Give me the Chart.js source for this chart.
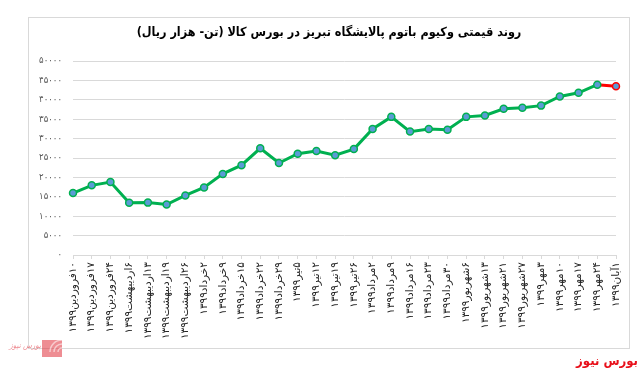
<!DOCTYPE html>
<html lang="fa">
<head>
<meta charset="utf-8">
<title>روند قیمتی وکیوم باتوم</title>
<script src="https://cdn.jsdelivr.net/npm/chart.js@4.4.1/dist/chart.umd.min.js"></script>
<style>
    html, body { margin: 0; padding: 0; background: #fff; }
    #box { position: relative; width: 643px; height: 374px; }
</style>
</head>
<body>
<div id="box"><canvas id="graficoVakium" dir="rtl"></canvas></div>
<script>
// Dados
const titulo = 'روند قیمتی وکیوم باتوم پالایشگاه تبریز در بورس کالا (تن- هزار ریال)';
const ano = '۱۳۹۹';
const dias = [
    '۱۰فروردین', '۱۷فروردین', '۲۴فروردین', '۶اردیبهشت', '۱۳اردیبهشت',
    '۱۹اردیبهشت', '۲۶اردیبهشت', '۲خرداد', '۹خرداد', '۱۵خرداد',
    '۲۲خرداد', '۲۹خرداد', '۵تیر', '۱۲تیر', '۱۹تیر',
    '۲۶تیر', '۲مرداد', '۹مرداد', '۱۶مرداد', '۲۳مرداد',
    '۳۰مرداد', '۶شهریور', '۱۳شهریور', '۲۱شهریور', '۲۷شهریور',
    '۳مهر', '۱۰مهر', '۱۷مهر', '۲۴مهر', '۱آبان'
];
const precos = [
    15950, 17950, 18800, 13450, 13500,
    13000, 15350, 17400, 20900, 23150,
    27500, 23700, 26100, 26800, 25700,
    27300, 32500, 35600, 31800, 32500,
    32300, 35600, 35950, 37700, 37950,
    38500, 40850, 41800, 43900, 43500
];
const eixoY = { min: 0, max: 50000, passo: 5000 };

const fonte = "'DejaVu Sans Condensed', 'DejaVu Sans', sans-serif";
const fonteEixoX = "'DejaVu Sans', sans-serif";
const digitosFa = '۰۱۲۳۴۵۶۷۸۹';
function paraFa(n) {
    return String(n).replace(/\d/g, d => digitosFa[d]);
}

document.addEventListener('DOMContentLoaded', function () {
    const ctx = document.getElementById('graficoVakium');
    const ultimo = precos.length - 1;

    // fundo, moldura, título e logotipos
    const moldura = {
        id: 'moldura',
        beforeDraw(chart) {
            const c = chart.ctx;
            c.save();
            c.fillStyle = '#ffffff';
            c.fillRect(0, 0, chart.width, chart.height);
            c.restore();
        },
        afterDraw(chart) {
            const c = chart.ctx;
            c.save();
            c.strokeStyle = '#d9d9d9';
            c.lineWidth = 1;
            c.strokeRect(28.5, 17.5, 601, 331);

            c.fillStyle = '#000000';
            c.font = 'bold 12.5px ' + fonte;
            c.textAlign = 'center';
            c.textBaseline = 'middle';
            c.fillText(titulo, 329, 33);

            c.fillStyle = '#e8101a';
            c.font = 'bold 13px ' + fonte;
            c.textAlign = 'right';
            c.fillText('بورس نیوز', 638, 362);

            // marca d'água no canto
            c.globalAlpha = 0.55;
            c.fillStyle = '#e0303a';
            c.fillRect(42, 340, 20, 17);
            c.strokeStyle = '#ffffff';
            c.lineWidth = 1.5;
            [4, 8, 12].forEach(r => {
                c.beginPath();
                c.arc(62, 352, r, Math.PI, Math.PI * 1.5);
                c.stroke();
            });
            c.fillStyle = '#e0303a';
            c.font = 'italic 8px ' + fonte;
            c.fillText('بورس نیوز', 41, 346);
            c.restore();
        }
    };

    const data = {
        labels: dias.map(d => d + ano),
        datasets: [{
            label: 'قیمت',
            data: precos,
            borderColor: '#00b050',
            borderWidth: 3,
            tension: 0,
            segment: {
                borderColor: s => s.p1DataIndex === ultimo ? '#ff0000' : '#00b050'
            },
            pointRadius: 3.5,
            pointBorderWidth: 1.5,
            pointBackgroundColor: '#5b9bd5',
            pointBorderColor: precos.map((v, i) => i === ultimo ? '#ff0000' : '#00b050')
        }]
    };

    const config = {
        type: 'line',
        data: data,
        options: {
            responsive: true,
            maintainAspectRatio: false,
            animation: false,
            layout: { padding: { top: 61, right: 27, left: 0, bottom: 0 } },
            plugins: {
                legend: { display: false },
                title: { display: false },
                tooltip: { enabled: false }
            },
            scales: {
                x: {
                    offset: false,
                    afterFit(scale) { scale.height = 119; },
                    grid: {
                        drawOnChartArea: false,
                        drawTicks: true,
                        tickLength: 4,
                        color: '#d9d9d9'
                    },
                    border: { display: true, color: '#d9d9d9' },
                    ticks: {
                        autoSkip: false,
                        minRotation: 90,
                        maxRotation: 90,
                        padding: 3,
                        color: '#262626',
                        font: { family: fonteEixoX, size: 10.5 }
                    }
                },
                y: {
                    min: eixoY.min,
                    max: eixoY.max,
                    afterFit(scale) { scale.width = 73; },
                    grid: { color: '#d9d9d9', drawTicks: false },
                    border: { display: false },
                    ticks: {
                        stepSize: eixoY.passo,
                        padding: 11,
                        color: '#595959',
                        font: { family: fonte, size: 9.5 },
                        callback: v => paraFa(v)
                    }
                }
            }
        },
        plugins: [moldura]
    };

    new Chart(ctx, config);
});
</script>
</body>
</html>
